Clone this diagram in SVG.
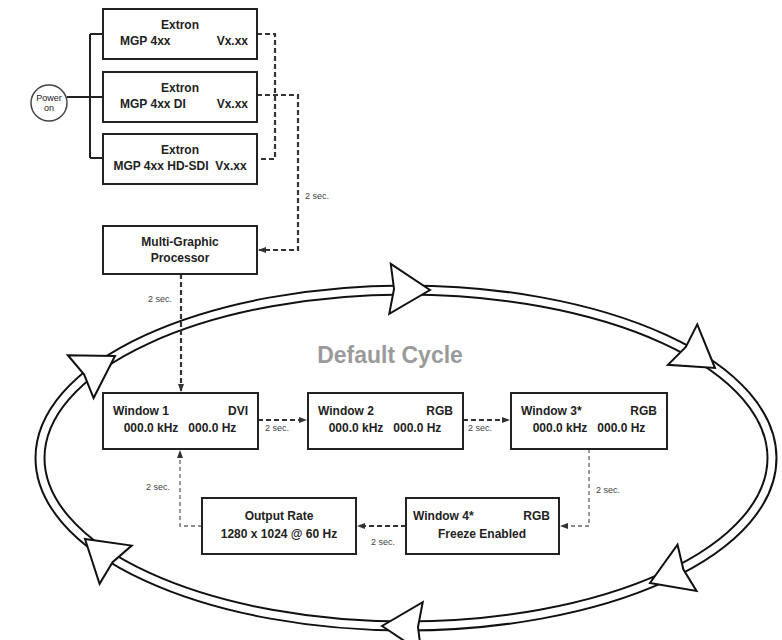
<svg xmlns="http://www.w3.org/2000/svg" width="782" height="640" viewBox="0 0 782 640">
<style>
.box{fill:#fff;stroke:#222;stroke-width:2}
.t{font-family:"Liberation Sans",Arial,sans-serif;font-weight:bold;font-size:12px;fill:#222;white-space:pre}
.s{font-family:"Liberation Sans",Arial,sans-serif;font-size:9px;fill:#444}
.d{fill:none;stroke:#333;stroke-width:2.2;stroke-dasharray:5,3}
.dl{fill:none;stroke:#666;stroke-width:1.3;stroke-dasharray:4,3}
.ah{fill:#fff;stroke:#111;stroke-width:2;stroke-linejoin:miter}
</style>
<defs>
<marker id="m" markerWidth="8" markerHeight="8" refX="7" refY="4" orient="auto" markerUnits="userSpaceOnUse"><path d="M0,1 L8,4 L0,7 Z" fill="#333"/></marker>
<polygon id="head" points="0,0 -40,-25 -36,0 -40,25"/>
</defs>
<rect width="782" height="640" fill="#fff"/>
<g id="ring">
<ellipse cx="406" cy="458" rx="366" ry="168" fill="none" stroke="#111" stroke-width="11"/>
<ellipse cx="406" cy="458" rx="366" ry="168" fill="none" stroke="#fff" stroke-width="7"/>
<use href="#head" class="ah" transform="translate(430,290) rotate(1.7)"/>
<use href="#head" class="ah" transform="translate(715,368) rotate(35.9)"/>
<use href="#head" class="ah" transform="translate(650,583) rotate(157.7)"/>
<use href="#head" class="ah" transform="translate(382,626) rotate(181.7)"/>
<use href="#head" class="ah" transform="translate(85,539) rotate(220)"/>
<use href="#head" class="ah" transform="translate(115,356) rotate(-31)"/>
</g>
<text x="390" y="363" text-anchor="middle" font-family="Liberation Sans,Arial,sans-serif" font-weight="bold" font-size="23" fill="#9a9a9a">Default Cycle</text>
<g id="connectors">
<path d="M67,97 H103 M90,34 V158 M90,34 H103 M90,158 H103" fill="none" stroke="#222" stroke-width="2"/>
<path class="d" d="M257,34 H275 V159 H257"/>
<path class="d" d="M257,95 H298 V250 H259" marker-end="url(#m)"/>
<path class="d" d="M181,274 V391" marker-end="url(#m)"/>
<path class="d" d="M258,420 H306" marker-end="url(#m)"/>
<path class="d" d="M463,420 H509" marker-end="url(#m)"/>
<path class="dl" d="M589,449 V526 H561" marker-end="url(#m)"/>
<path class="d" d="M406,526 H358" marker-end="url(#m)"/>
<path class="dl" d="M202,526 H180 V451" marker-end="url(#m)"/>
<text class="s" x="305" y="199">2 sec.</text>
<text class="s" x="148" y="302">2 sec.</text>
<text class="s" x="265" y="431">2 sec.</text>
<text class="s" x="468" y="431">2 sec.</text>
<text class="s" x="596" y="493">2 sec.</text>
<text class="s" x="371" y="545">2 sec.</text>
<text class="s" x="146" y="490">2 sec.</text>
</g>
<g id="power"><circle cx="49" cy="103" r="18" fill="#fff" stroke="#444" stroke-width="1.5"/>
<text x="49" y="101" text-anchor="middle" font-family="Liberation Sans,Arial,sans-serif" font-size="9" fill="#222">Power</text>
<text x="49" y="111" text-anchor="middle" font-family="Liberation Sans,Arial,sans-serif" font-size="9" fill="#222">on</text></g>
<g id="box1"><rect class="box" x="103" y="9" width="154" height="50"/>
<text class="t" x="180" y="29" text-anchor="middle">Extron</text><text class="t" x="120" y="45">MGP 4xx</text><text class="t" x="248" y="45" text-anchor="end">Vx.xx</text></g>
<g id="box2"><rect class="box" x="103" y="72" width="154" height="50"/>
<text class="t" x="180" y="92" text-anchor="middle">Extron</text><text class="t" x="120" y="108">MGP 4xx DI</text><text class="t" x="248" y="108" text-anchor="end">Vx.xx</text></g>
<g id="box3"><rect class="box" x="103" y="134" width="154" height="50"/>
<text class="t" x="180" y="154" text-anchor="middle">Extron</text><text class="t" x="180" y="170" text-anchor="middle">MGP 4xx HD-SDI  Vx.xx</text></g>
<g id="mgp"><rect class="box" x="103" y="226" width="154" height="48"/>
<text class="t" x="180" y="246" text-anchor="middle">Multi-Graphic</text><text class="t" x="180" y="262" text-anchor="middle">Processor</text></g>
<g id="w1"><rect class="box" x="103" y="393" width="155" height="56"/>
<text class="t" x="113" y="415">Window 1</text><text class="t" x="248" y="415" text-anchor="end">DVI</text><text class="t" x="180" y="432" text-anchor="middle">000.0 kHz   000.0 Hz</text></g>
<g id="w2"><rect class="box" x="308" y="393" width="155" height="56"/>
<text class="t" x="318" y="415">Window 2</text><text class="t" x="453" y="415" text-anchor="end">RGB</text><text class="t" x="385" y="432" text-anchor="middle">000.0 kHz   000.0 Hz</text></g>
<g id="w3"><rect class="box" x="511" y="393" width="156" height="56"/>
<text class="t" x="521" y="415">Window 3*</text><text class="t" x="657" y="415" text-anchor="end">RGB</text><text class="t" x="589" y="432" text-anchor="middle">000.0 kHz   000.0 Hz</text></g>
<g id="w4"><rect class="box" x="406" y="498" width="153" height="56"/>
<text class="t" x="413" y="520">Window 4*</text><text class="t" x="550" y="520" text-anchor="end">RGB</text><text class="t" x="482" y="538" text-anchor="middle">Freeze Enabled</text></g>
<g id="out"><rect class="box" x="202" y="498" width="154" height="56"/>
<text class="t" x="279" y="520" text-anchor="middle">Output Rate</text><text class="t" x="279" y="538" text-anchor="middle">1280 x 1024 @ 60 Hz</text></g>
</svg>
